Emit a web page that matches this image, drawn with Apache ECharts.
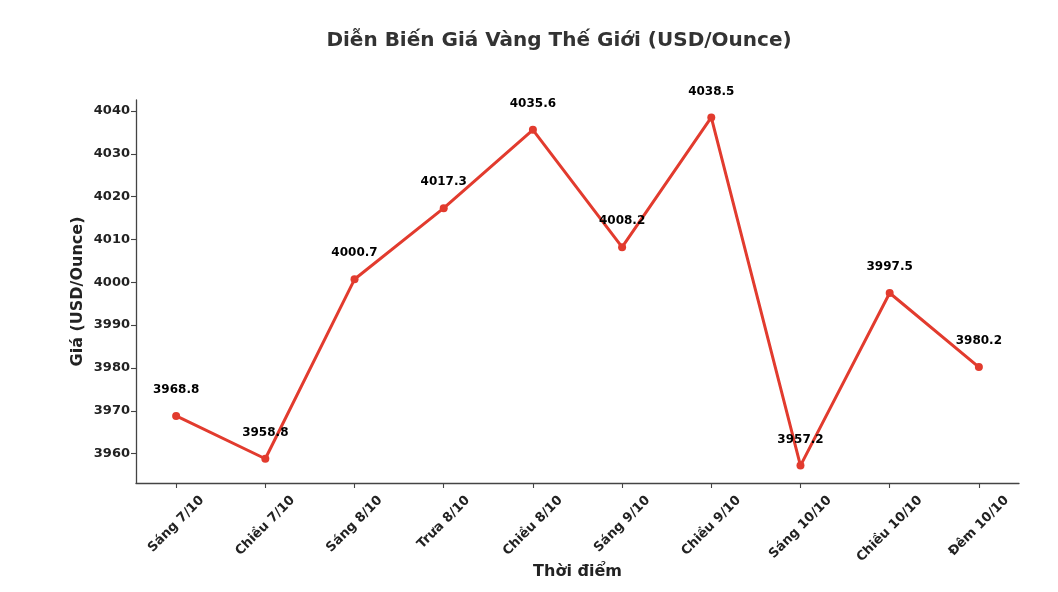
<!DOCTYPE html>
<html>
<head>
<meta charset="utf-8">
<script src="https://cdn.jsdelivr.net/npm/echarts@6/dist/echarts.min.js"></script>
<style>html,body{margin:0;padding:0;background:#fff}#c{width:1058px;height:592px}</style>
</head>
<body>
<div id="c"></div>
<script>
const categories = ['Sáng 7/10','Chiều 7/10','Sáng 8/10','Trưa 8/10','Chiều 8/10','Sáng 9/10','Chiều 9/10','Sáng 10/10','Chiều 10/10','Đêm 10/10'];
const prices = [3968.8, 3958.8, 4000.7, 4017.3, 4035.6, 4008.2, 4038.5, 3957.2, 3997.5, 3980.2];
const yTicks = [3960, 3970, 3980, 3990, 4000, 4010, 4020, 4030, 4040];
const titleText = 'Diễn Biến Giá Vàng Thế Giới (USD/Ounce)';
const xName = 'Thời điểm';
const yName = 'Giá (USD/Ounce)';

const FONT = '"DejaVu Sans", sans-serif';
const TICK_FS = 13;
const LINE_H = 15;
const ctx = document.createElement('canvas').getContext('2d');
ctx.font = 'bold ' + TICK_FS + 'px ' + FONT;
const rich = {};
categories.forEach((c, i) => {
  const w = ctx.measureText(c).width;
  const p = (w + LINE_H) / 2;
  rich['l' + i] = {
    fontFamily: FONT, fontSize: TICK_FS, fontWeight: 'bold', color: '#222',
    lineHeight: LINE_H, padding: [p, p, 0, 0]
  };
});

const xIdx = categories.map((c, i) => i);
const data = prices.map((v, i) => [i, v]);
const n = categories.length;
const pad = (n - 1) * 0.05;
const yMinData = Math.min(...prices), yMaxData = Math.max(...prices);
const yPad = (yMaxData - yMinData) * 0.05;

const chart = echarts.init(document.getElementById('c'), null, {renderer: 'canvas'});
chart.setOption({
  backgroundColor: '#fff',
  animation: false,
  title: {
    text: titleText,
    left: 554, top: 26, textAlign: 'center',
    textStyle: {fontFamily: FONT, fontSize: 20, fontWeight: 'bold', color: '#333'}
  },
  grid: {left: 136, right: 39, top: 100, bottom: 109, containLabel: false},
  xAxis: {
    type: 'value',
    min: -pad, max: (n - 1) + pad,
    name: xName, nameLocation: 'middle', nameGap: 81, nameMoveOverlap: false,
    nameTextStyle: {fontFamily: FONT, fontSize: 16, fontWeight: 'bold', color: '#222'},
    axisLine: {show: true, onZero: false, lineStyle: {color: '#444', width: 1.3}},
    axisTick: {show: true, length: 5, customValues: xIdx, lineStyle: {color: '#444', width: 1.1}},
    axisLabel: {
      customValues: xIdx, rotate: 45, align: 'center', verticalAlign: 'middle', margin: 10,
      formatter: v => { const i = Math.round(v); return '{l' + i + '|' + categories[i] + '}'; },
      rich: rich
    },
    splitLine: {show: false}
  },
  yAxis: {
    type: 'value',
    min: yMinData - yPad, max: yMaxData + yPad,
    name: yName, nameLocation: 'middle', nameGap: 50, nameRotate: 90, nameMoveOverlap: false,
    nameTextStyle: {fontFamily: FONT, fontSize: 16, fontWeight: 'bold', color: '#222'},
    axisLine: {show: true, onZero: false, lineStyle: {color: '#444', width: 1.3}},
    axisTick: {show: true, length: 5, customValues: yTicks, lineStyle: {color: '#444', width: 1.1}},
    axisLabel: {
      customValues: yTicks, margin: 6,
      fontFamily: FONT, fontSize: TICK_FS, fontWeight: 'bold', color: '#222',
      formatter: v => String(Math.round(v))
    },
    splitLine: {show: false}
  },
  series: [{
    type: 'line',
    data: data,
    symbol: 'circle', symbolSize: 8,
    itemStyle: {color: '#e23b2e'},
    lineStyle: {color: '#e23b2e', width: 3},
    label: {
      show: true, position: 'top', distance: 16,
      fontFamily: FONT, fontSize: 12, fontWeight: 'bold', color: '#000',
      formatter: p => p.value[1].toFixed(1)
    }
  }]
});
</script>
</body>
</html>
